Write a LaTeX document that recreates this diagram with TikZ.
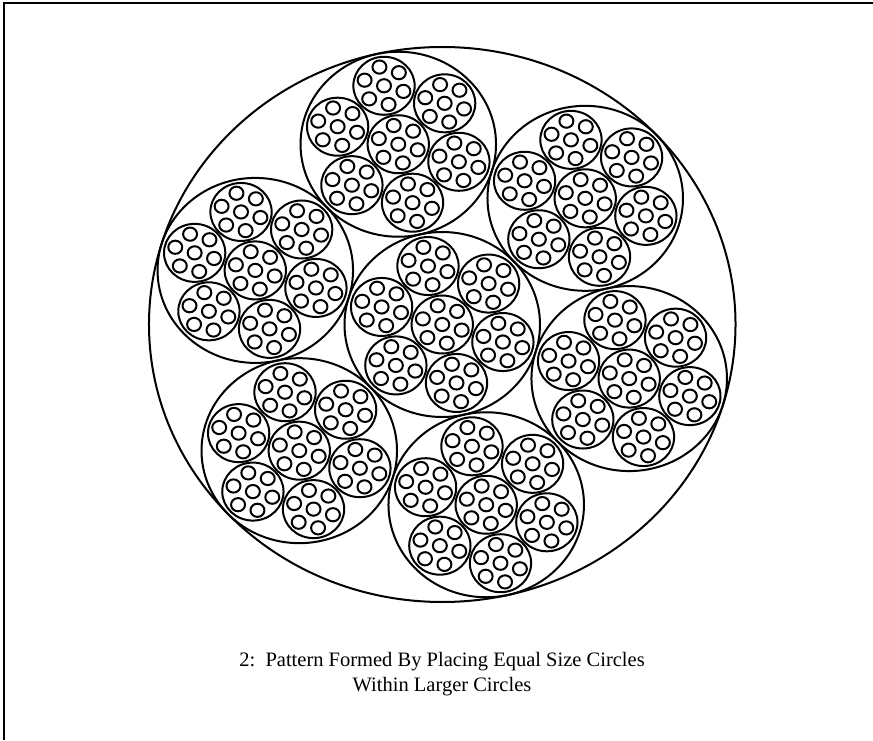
\documentclass[tikz,border=0pt]{standalone}
\usepackage{fontspec}
\setmainfont{Liberation Serif}
\begin{document}
\begin{tikzpicture}[x=1pt,y=1pt,
  ring/.style={draw=black, line width=2pt},
  frameline/.style={draw=black, line width=1.8pt},
  caption/.style={font=\fontsize{20.5}{25}\selectfont, anchor=base, inner sep=0pt}]
\useasboundingbox (0,0) rectangle (873,740);
\draw[frameline] (4.2,0) -- (4.2,736.7) -- (873,736.7);
\begin{scope}[shift={(442.25,415.5)}, xscale=1.0568]
 \draw[ring] (0,0) circle[radius=277.5];
 \foreach \aa/\da in {0/0,43/185,103/185,163/185,223/185,283/185,343/185}{
  \begin{scope}[shift={(\aa:\da)}]
   \draw[ring] (0,0) circle[radius=92.5];
   \foreach \ab/\db in {0/0,43/60,103/60,163/60,223/60,283/60,343/60}{
    \begin{scope}[shift={(\ab:\db)}]
      \draw[ring] (0,0) circle[radius=29];
      \foreach \ac/\dc in {0/0,43/19.2,103/19.2,163/19.2,223/19.2,283/19.2,343/19.2}{
        \draw[ring] (\ac:\dc) circle[radius=6.6];
      }
    \end{scope}
   }
  \end{scope}
 }
\end{scope}
\node[caption] (cap1) at (442,74) {2:\ \ Pattern Formed By Placing Equal Size Circles};
\node[caption] (cap2) at (442,49) {Within Larger Circles};
\end{tikzpicture}
\end{document}
